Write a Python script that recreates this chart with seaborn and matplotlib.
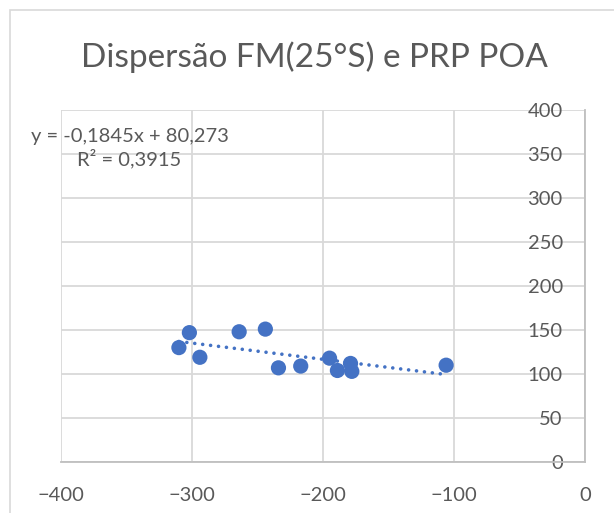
#!/usr/bin/env python3

import matplotlib.pyplot as plt
import matplotlib.patches as patches
import pandas as pd
import seaborn as sns

# values
fm_25s = [-310, -302, -294, -264, -244, -234, -217, -195, -189, -179, -178, -106]
prp_poa = [130, 147, 119, 148, 151, 107, 109, 118, 104, 112, 103, 110]
x_ticks = [-400, -300, -200, -100, 0]
y_ticks = [0, 50, 100, 150, 200, 250, 300, 350, 400]
title = 'Dispersão FM(25°S) e PRP POA'
equation = 'y = -0,1845x + 80,273\nR² = 0,3915'

BLUE = '#4472C4'
GREY_TXT = '#595959'
GRID = '#D9D9D9'
AXIS = '#BFBFBF'


def main():
    sns.set_theme(style='white')
    plt.rcParams['font.family'] = ['Lato', 'DejaVu Sans']

    data = pd.DataFrame({'fm': fm_25s, 'prp': prp_poa})

    fig = plt.figure(figsize=(6.14, 5.13), dpi=100)
    ax = fig.add_axes([61 / 614, 51 / 513, 524 / 614, 352 / 513])

    # chart area border (Excel style)
    fig.patches.append(patches.Rectangle((10 / 614, -0.1), 1.2, (503 / 513) + 0.1,
                                         transform=fig.transFigure, fill=False,
                                         edgecolor=GRID, linewidth=1.2))

    sns.regplot(data=data, x='fm', y='prp', scatter=False, ci=None, truncate=True,
                color=BLUE, ax=ax,
                line_kws={'linestyle': (0, (0.01, 2.2)), 'linewidth': 2.6,
                          'dash_capstyle': 'round'})
    sns.scatterplot(data=data, x='fm', y='prp', color=BLUE, s=120,
                    edgecolor='none', ax=ax, zorder=3)

    ax.set_xlim(-400, 0)
    ax.set_ylim(0, 400)
    ax.set_xticks(x_ticks)
    ax.set_yticks(y_ticks)
    ax.set_xlabel('')
    ax.set_ylabel('')

    ax.grid(True, color=GRID, linewidth=1.3)
    ax.set_axisbelow(True)
    for side in ['top', 'left']:
        ax.spines[side].set_visible(False)
    for side in ['bottom', 'right']:
        ax.spines[side].set_color(AXIS)
        ax.spines[side].set_linewidth(1.3)

    ax.yaxis.tick_right()
    ax.tick_params(axis='y', length=0, pad=-16, labelsize=14.5, labelcolor=GREY_TXT)
    for lab in ax.get_yticklabels():
        lab.set_ha('right')
    ax.tick_params(axis='x', length=0, pad=18, labelsize=14.5, labelcolor=GREY_TXT)

    fig.text(314 / 614, 1 - 57 / 513, title, ha='center', va='center',
             fontsize=24, color=GREY_TXT)
    fig.text(129.5 / 614, 1 - 148 / 513, equation, ha='center', va='center',
             multialignment='center', fontsize=14.5, color=GREY_TXT,
             linespacing=1.25)

    fig.savefig('out.png', dpi=100)


if __name__ == '__main__':
    main()
